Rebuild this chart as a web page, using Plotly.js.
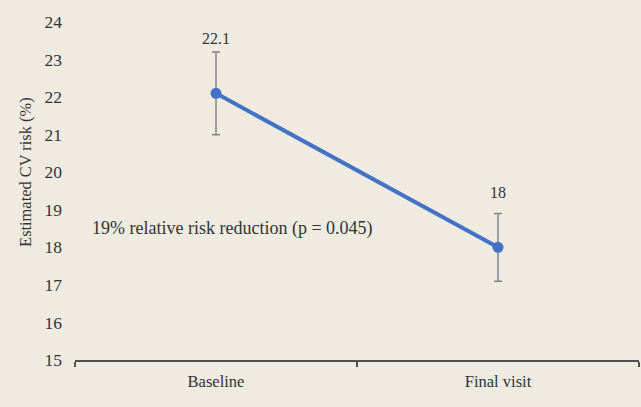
<!DOCTYPE html>
<html>
<head>
<meta charset="utf-8">
<script src="https://cdn.plot.ly/plotly-3.0.1.min.js"></script>
<style>html,body{margin:0;padding:0;background:#efebe1;}#chart{width:641px;height:407px;}</style>
</head>
<body>
<div id="chart"></div>
<script>
const categories = ["Baseline", "Final visit"];
const riskValues = [22.1, 18];
const errorPlusMinus = [1.1, 0.9];
const valueLabels = ["22.1", "18"];
const yTickValues = [15, 16, 17, 18, 19, 20, 21, 22, 23, 24];
const yAxisTitle = "Estimated CV risk (%)";
const noteText = "19% relative risk reduction (p = 0.045)";
const noteY = 18.5;

const font = "'Liberation Serif', 'Times New Roman', serif";
const bg = "#efebe1";

const trace = {
  type: "scatter",
  mode: "lines+markers",
  x: categories,
  y: riskValues,
  line: {color: "#4472c4", width: 4},
  marker: {color: "#4472c4", size: 11},
  error_y: {type: "data", array: errorPlusMinus, visible: true, color: "#858585", thickness: 1.5, width: 4},
  hoverinfo: "skip"
};

const annotations = categories.map((c, i) => ({
  x: c, y: riskValues[i], xref: "x", yref: "y",
  text: valueLabels[i], showarrow: false,
  yshift: 55, yanchor: "middle", xanchor: "center",
  font: {family: font, size: 16, color: "#333333"}
}));
annotations.push({
  xref: "paper", yref: "y", x: 0.026, y: noteY,
  text: noteText, showarrow: false, xanchor: "left", yanchor: "middle",
  font: {family: font, size: 18, color: "#333333"}
});
annotations.push({
  xref: "paper", yref: "paper", x: -0.089, y: 0.556,
  text: yAxisTitle, showarrow: false, textangle: -90,
  xanchor: "center", yanchor: "middle",
  font: {family: font, size: 16.4, color: "#333333"}
});

const layout = {
  width: 641, height: 407,
  margin: {l: 75, r: 2, t: 22, b: 47},
  paper_bgcolor: bg, plot_bgcolor: bg,
  showlegend: false,
  font: {family: font, size: 16, color: "#333333"},
  xaxis: {
    type: "category", range: [-0.5, 1.5],
    showline: true, linecolor: "#505050", linewidth: 1.5,
    ticks: "outside", tickson: "boundaries", ticklen: 5, tickcolor: "#505050", tickwidth: 1.5,
    showgrid: false, zeroline: false,
    ticklabelstandoff: 6,
    tickfont: {family: font, size: 16.5, color: "#333333"}
  },
  yaxis: {
    range: [15, 24], tickvals: yTickValues,
    showline: false, showgrid: false, zeroline: false, ticks: "",
    ticklabelstandoff: 12,
    tickfont: {family: font, size: 17.5, color: "#333333"}
  },
  annotations: annotations
};

Plotly.newPlot("chart", [trace], layout, {displayModeBar: false, staticPlot: true});
</script>
</body>
</html>
